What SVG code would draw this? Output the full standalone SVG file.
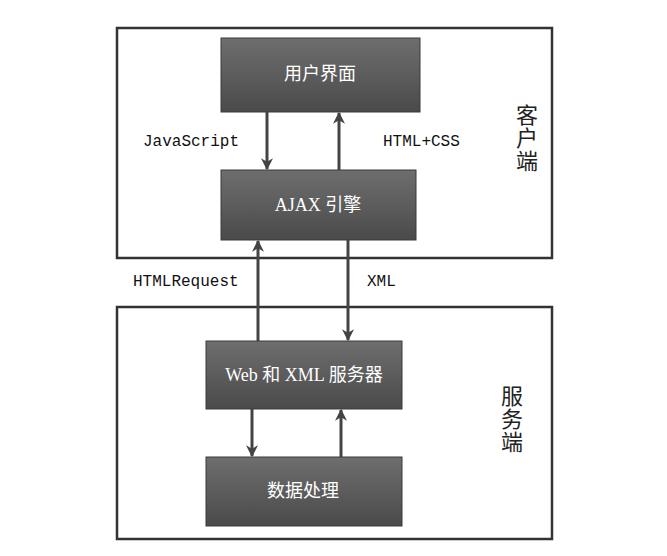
<svg xmlns="http://www.w3.org/2000/svg" width="667" height="556" viewBox="0 0 667 556">
<defs>
<linearGradient id="g" x1="0" y1="0" x2="0" y2="1">
<stop offset="0" stop-color="#6e6e6e"/>
<stop offset="0.5" stop-color="#5c5c5c"/>
<stop offset="1" stop-color="#4a4a4a"/>
</linearGradient>
<marker id="ah" viewBox="0 0 10 10" refX="9" refY="5" markerWidth="4" markerHeight="4" orient="auto" markerUnits="strokeWidth">
<path d="M0,0 L10,5 L0,10 L3,5 Z" fill="#444"/>
</marker>
</defs>
<style>
.frame{fill:none;stroke:#333;stroke-width:2.5}
.box{fill:url(#g);stroke:#3a3a3a;stroke-width:1}
.bt{fill:#fff;font-family:"Liberation Serif","Noto Sans CJK SC",serif;font-size:18px;text-anchor:middle;dominant-baseline:central}
.lbl{fill:#111;font-family:"Liberation Mono","Noto Sans CJK SC",monospace;font-size:16px;dominant-baseline:central}
.side{fill:#222;font-family:"Noto Sans CJK SC",sans-serif;font-size:22px;text-anchor:middle;writing-mode:vertical-rl;letter-spacing:1px}
.arr{stroke:#444;stroke-width:3;fill:none;marker-end:url(#ah)}
</style>
<rect width="667" height="556" fill="#fff"/>
<g id="client">
<rect class="frame" x="117" y="28" width="435" height="230"/>
<text class="side" x="527" y="138">客户端</text>
</g>
<g id="server">
<rect class="frame" x="117" y="307" width="435" height="232"/>
<text class="side" x="512" y="419">服务端</text>
</g>
<g id="ui">
<rect class="box" x="221" y="38" width="199" height="74"/>
<text class="bt" x="320" y="74">用户界面</text>
</g>
<g id="ajax">
<rect class="box" x="221" y="170" width="195" height="70"/>
<text class="bt" x="318" y="205">AJAX 引擎</text>
</g>
<g id="web">
<rect class="box" x="206" y="341" width="196" height="68"/>
<text class="bt" x="304" y="375">Web 和 XML 服务器</text>
</g>
<g id="data">
<rect class="box" x="206" y="457" width="196" height="69"/>
<text class="bt" x="303" y="491">数据处理</text>
</g>
<g id="connectors">
<line class="arr" x1="267" y1="112" x2="267" y2="169"/>
<line class="arr" x1="339" y1="170" x2="339" y2="113"/>
<line class="arr" x1="258" y1="341" x2="258" y2="241"/>
<line class="arr" x1="348" y1="240" x2="348" y2="340"/>
<line class="arr" x1="252" y1="409" x2="252" y2="456"/>
<line class="arr" x1="341" y1="457" x2="341" y2="410"/>
<text class="lbl" x="143" y="142">JavaScript</text>
<text class="lbl" x="383" y="142">HTML+CSS</text>
<text class="lbl" x="133" y="282">HTMLRequest</text>
<text class="lbl" x="367" y="282">XML</text>
</g>
</svg>
